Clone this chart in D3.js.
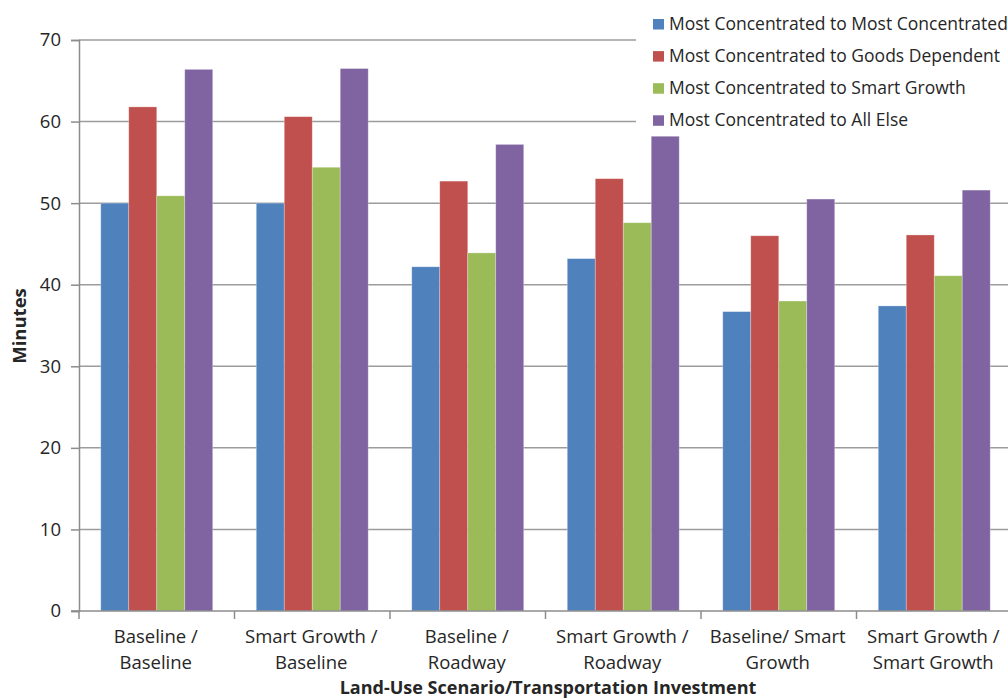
<!DOCTYPE html>
<html>
<head>
<meta charset="utf-8">
<script src="https://cdn.jsdelivr.net/npm/d3@7"></script>
<style>
  body { margin: 0; background: #fff; }
  svg text { font-family: "Open Sans", "Noto Sans", sans-serif; fill: #262626; }
</style>
</head>
<body>
<svg id="chart" width="1008" height="700"></svg>
<script>
// categories (two-line labels)
const categories = [
  ['Baseline /', 'Baseline'],
  ['Smart Growth /', 'Baseline'],
  ['Baseline /', 'Roadway'],
  ['Smart Growth /', 'Roadway'],
  ['Baseline/ Smart', 'Growth'],
  ['Smart Growth /', 'Smart Growth']
]
const seriesNames = [
  'Most Concentrated to Most Concentrated',
  'Most Concentrated to Goods Dependent',
  'Most Concentrated to Smart Growth',
  'Most Concentrated to All Else'
]
const mostConc  = [50.0, 50.0, 42.2, 43.2, 36.7, 37.4]
const goodsDep  = [61.8, 60.6, 52.7, 53.0, 46.0, 46.1]
const smartGr   = [50.9, 54.4, 43.9, 47.6, 38.0, 41.1]
const allElse   = [66.4, 66.5, 57.2, 58.2, 50.5, 51.6]
const yTicks = [0, 10, 20, 30, 40, 50, 60, 70]
const colors = ['#4F81BD', '#C0504D', '#9BBB59', '#8064A2']

const series = [mostConc, goodsDep, smartGr, allElse]

const svg = d3.select('#chart')
const mLeft = 79, mRight = 1012, mTop = 40, mBottom = 611

const x0 = d3.scaleBand().domain(d3.range(categories.length)).range([mLeft, mRight])
  .paddingInner(0.28).paddingOuter(0.14)
const x1 = d3.scaleBand().domain(d3.range(series.length)).range([0, x0.bandwidth()])
const y = d3.scaleLinear().domain([0, 70]).range([mBottom, mTop])

// gridlines
svg.append('g').selectAll('line').data(yTicks.slice(1)).enter().append('line')
  .attr('x1', mLeft).attr('x2', 1008)
  .attr('y1', d => y(d)).attr('y2', d => y(d))
  .attr('stroke', '#9c9c9c').attr('stroke-width', 1.5)

// bars
const groups = svg.append('g').selectAll('g').data(categories).enter().append('g')
  .attr('transform', (d, i) => `translate(${x0(i)},0)`)
groups.selectAll('rect').data((d, i) => series.map((s, k) => ({k, v: s[i]}))).enter().append('rect')
  .attr('x', d => x1(d.k)).attr('width', x1.bandwidth())
  .attr('y', d => y(d.v)).attr('height', d => y(0) - y(d.v))
  .attr('fill', d => colors[d.k])
  .attr('stroke', 'rgba(255,255,255,0.35)').attr('stroke-width', 0.8)

// y axis
const yAxis = svg.append('g').attr('transform', `translate(${mLeft},0)`)
  .call(d3.axisLeft(y).tickValues(yTicks).tickSize(8).tickPadding(10))
yAxis.select('.domain').attr('stroke', '#8c8c8c').attr('stroke-width', 1.5)
yAxis.selectAll('.tick line').attr('stroke', '#8c8c8c').attr('stroke-width', 1.5)
yAxis.selectAll('.tick text').attr('font-size', 18.5).attr('fill', '#262626')
  .style('font-family', '"Open Sans", sans-serif')

// x axis baseline and boundary ticks
const xAxis = svg.append('g')
xAxis.append('line').attr('x1', mLeft - 8).attr('x2', 1008)
  .attr('y1', mBottom).attr('y2', mBottom).attr('stroke', '#8c8c8c').attr('stroke-width', 1.5)
xAxis.selectAll('.bt').data(d3.range(categories.length)).enter().append('line')
  .attr('x1', i => x0(i) - x0.step() * x0.paddingInner() / 2)
  .attr('x2', i => x0(i) - x0.step() * x0.paddingInner() / 2)
  .attr('y1', mBottom).attr('y2', mBottom + 8)
  .attr('stroke', '#8c8c8c').attr('stroke-width', 1.5)

// category labels
const labels = svg.append('g').selectAll('text').data(categories).enter().append('text')
  .attr('text-anchor', 'middle').attr('font-size', 18.5)
  .attr('transform', (d, i) => `translate(${x0(i) + x0.bandwidth() / 2 - 1},0)`)
labels.append('tspan').attr('x', 0).attr('y', 643).text(d => d[0])
labels.append('tspan').attr('x', 0).attr('y', 669).text(d => d[1])

// axis titles
svg.append('text').attr('x', 548).attr('y', 694).attr('text-anchor', 'middle')
  .attr('font-size', 18).attr('font-weight', 'bold').text('Land-Use Scenario/Transportation Investment')
svg.append('text').attr('transform', 'translate(26,326) rotate(-90)').attr('text-anchor', 'middle')
  .attr('font-size', 18.5).attr('font-weight', 'bold').text('Minutes')

// legend
const legend = svg.append('g')
legend.append('rect').attr('x', 636).attr('y', 0).attr('width', 372).attr('height', 133).attr('fill', '#fff')
const items = legend.selectAll('g').data(seriesNames).enter().append('g')
  .attr('transform', (d, i) => `translate(653,${29.5 + i * 32.1})`)
items.append('rect').attr('x', 0).attr('y', -10.5).attr('width', 11).attr('height', 10.5)
  .attr('fill', (d, i) => colors[i])
items.append('text').attr('x', 16).attr('y', 0).attr('font-size', 17.5).text(d => d)
</script>
</body>
</html>
